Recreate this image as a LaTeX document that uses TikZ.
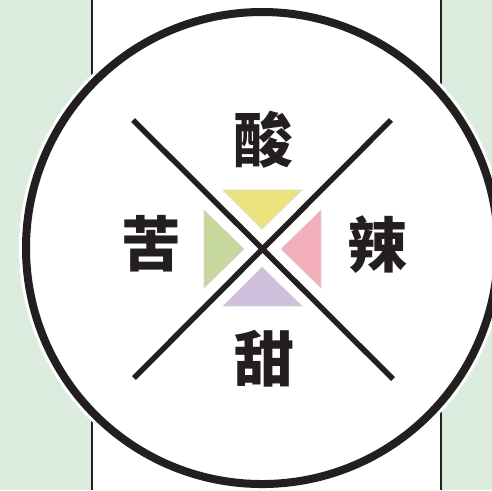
\documentclass[tikz,border=0pt]{standalone}
\usepackage{fontspec}
\newfontfamily\cjk{Noto Sans CJK SC}
\usepackage{xcolor}
\usetikzlibrary{positioning}
\definecolor{bggreen}{HTML}{DCEDE0}
\definecolor{rimblack}{HTML}{231F20}
\definecolor{sourcol}{HTML}{EDE37C}
\definecolor{bittercol}{HTML}{C6D89C}
\definecolor{spicycol}{HTML}{F2AEBA}
\definecolor{sweetcol}{HTML}{CFBFDD}

\begin{document}
\begin{tikzpicture}[x=0.01cm,y=-0.01cm,
  taste/.style={font=\cjk\bfseries\fontsize{17}{17}\selectfont, text=rimblack, inner sep=0pt},
  wedge/.style={draw=black!15, line width=0.2pt}]
\useasboundingbox (0,0) rectangle (492,490);
\clip (0,0) rectangle (492,490);
\fill[bggreen] (0,0) rectangle (492,490);
\fill[white] (92,0) rectangle (441,490); %page strip
\draw[line width=0.45pt, rimblack] (92,0) -- (92,490);
\draw[line width=0.45pt, rimblack] (441,0) -- (441,490);
\coordinate (o) at (262,248);
\fill[white] (o) circle (243);
\draw[line width=0.08cm, rimblack] (o) circle (236);
% the cross
\coordinate (nw) at (133,120);
\coordinate (se) at (393,379);
\coordinate (ne) at (391,120);
\coordinate (sw) at (134,378);
% four wedges
\fill[sourcol, wedge] (223,190) -- (302,190) -- (262,229) -- cycle;
\fill[bittercol, wedge] (204,210) -- (204,288) -- (244,249) -- cycle;
\fill[spicycol, wedge] (321,210) -- (321,288) -- (281,249) -- cycle;
\fill[sweetcol, wedge] (223,306) -- (302,306) -- (262,267) -- cycle;
\draw[line width=0.055cm, rimblack] (nw) -- (se);
\draw[line width=0.055cm, rimblack] (ne) -- (sw);
\node[taste] (sour) at (263,140) {酸};
\node[taste] (bitter) at (151,244) {苦};
\node[taste] (spicy) at (377,245) {辣};
\node[taste] (sweet) at (264,359) {甜};
\end{tikzpicture}
\end{document}
